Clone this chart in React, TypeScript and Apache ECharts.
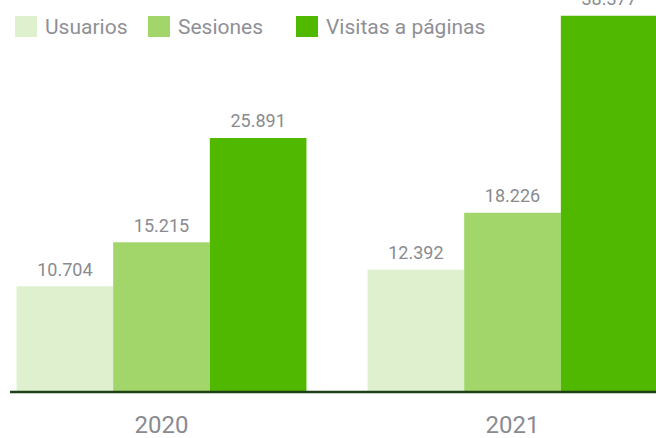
import React, { useEffect, useRef } from "react";
import * as echarts from "echarts";

const categories = ["2020", "2021"];
const seriesNames = ["Usuarios", "Sesiones", "Visitas a páginas"];
const usuarios = [10704, 12392];
const sesiones = [15215, 18226];
const visitas = [25891, 38377];
const colors = ["#dff0cf", "#a2d66a", "#51b800"];
const legendLefts = [15, 148, 296];

const FONT = "Roboto, 'Noto Sans', sans-serif";

function fmt(v: number): string {
  return String(Math.round(v)).replace(/\B(?=(\d{3})+(?!\d))/g, ".");
}

export default function App() {
  const ref = useRef<HTMLDivElement>(null);
  useEffect(() => {
    if (!ref.current) return;
    const chart = echarts.init(ref.current, null, { renderer: "svg" });
    const data = [usuarios, sesiones, visitas];
    chart.setOption({
      animation: false,
      legend: seriesNames.map((name, i) => ({
        left: legendLefts[i],
        top: 16,
        padding: 0,
        itemWidth: 22,
        itemHeight: 21,
        icon: "rect",
        selectedMode: false,
        textStyle: { fontFamily: FONT, fontSize: 21, color: "#8f9096", padding: [0, 0, 0, 3] },
        data: [name],
      })),
      grid: { left: -14, right: -32, top: 0, bottom: 47, containLabel: false, outerBoundsMode: "none" },
      xAxis: {
        type: "category",
        data: categories,
        axisLine: { show: false },
        axisTick: { show: false },
        axisLabel: { fontFamily: FONT, fontSize: 24, color: "#8a8b90", margin: 22 },
      },
      yAxis: {
        type: "value",
        min: 0,
        max: 40000,
        show: false,
        splitLine: { show: false },
      },
      graphic: [
        {
          type: "line",
          shape: { x1: 10, y1: 392, x2: 656, y2: 392 },
          style: { stroke: "#1e3e14", lineWidth: 2.5 },
          z: 10,
        },
      ],
      series: seriesNames.map((name, i) => ({
        name,
        type: "bar",
        data: data[i],
        barGap: "0%",
        barCategoryGap: "17.4%",
        itemStyle: { color: colors[i] },
        label: {
          show: true,
          position: "top",
          distance: 8,
          fontFamily: FONT,
          fontSize: 18,
          color: "#8a8b90",
          formatter: (p: any) => fmt(p.value),
        },
      })),
    });
    return () => chart.dispose();
  }, []);
  return <div ref={ref} style={{ width: 656, height: 438, position: "absolute", left: 0, top: 0 }} />;
}
